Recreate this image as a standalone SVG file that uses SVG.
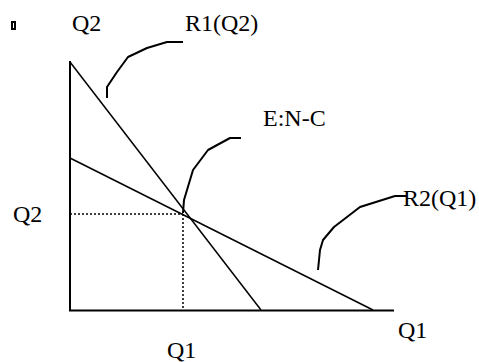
<svg xmlns="http://www.w3.org/2000/svg" width="479" height="362" viewBox="0 0 479 362">
<style>
text{font-family:"Liberation Serif","Times New Roman",serif;font-size:24px;fill:#000}
.ax{stroke:#000;stroke-width:2;fill:none}
.ln{stroke:#000;stroke-width:1.5;fill:none}
.dot{stroke:#000;stroke-width:1.5;stroke-dasharray:2 2;fill:none}
.cv{stroke:#000;stroke-width:2;fill:none;stroke-linejoin:round}
</style>
<rect x="0" y="0" width="479" height="362" fill="#fff"/>
<rect x="12" y="22" width="3" height="7" fill="none" stroke="#000" stroke-width="2"/>
<g id="axes">
<polyline class="ax" points="70,61 70,310.5 394,310.5"/>
</g>
<g id="connectors">
<line class="ln" x1="70" y1="62" x2="261" y2="310"/>
<line class="ln" x1="70" y1="158" x2="373" y2="310"/>
<line class="dot" x1="70" y1="214" x2="183" y2="214"/>
<line class="dot" x1="183" y1="214" x2="183" y2="310"/>
<polyline class="cv" points="107,98 107,87 117,72 128,57 147,48 167,42 183,42"/>
<polyline class="cv" points="183,213 184,200 193,170 208,150 230,138 241,138"/>
<polyline class="cv" points="318,270 320,250 323,240 334,227 360,207 395,196 407,196"/>
</g>
<g id="labels">
<text x="72" y="31">Q2</text>
<text x="185" y="31">R1(Q2)</text>
<text x="263" y="126">E:N-C</text>
<text x="403" y="206">R2(Q1)</text>
<text x="13" y="222">Q2</text>
<text x="398" y="338">Q1</text>
<text x="167" y="358">Q1</text>
</g>
</svg>
